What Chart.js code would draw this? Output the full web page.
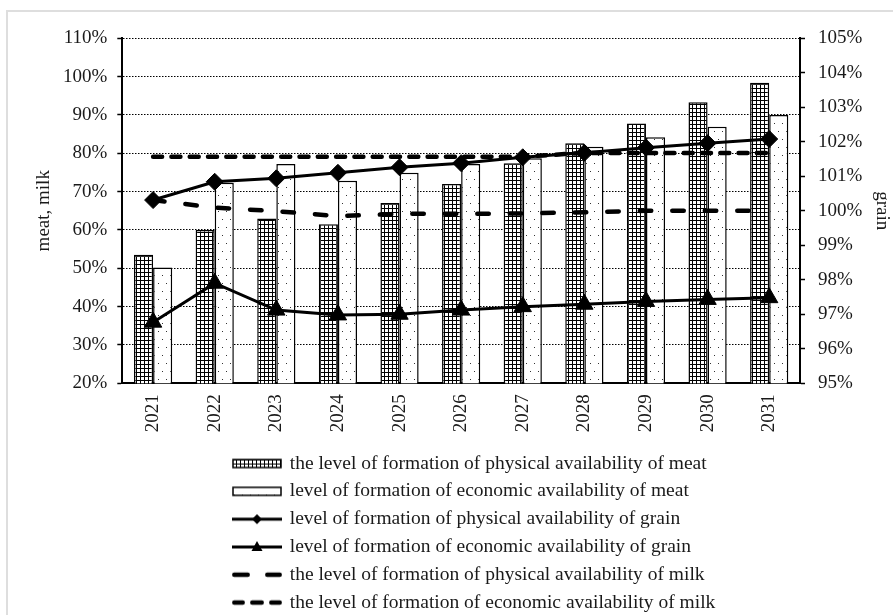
<!DOCTYPE html>
<html>
<head>
<meta charset="utf-8">
<script src="https://cdn.jsdelivr.net/npm/chart.js@4.4.1/dist/chart.umd.min.js"></script>
<style>
  html, body { margin: 0; padding: 0; background: #fff; }
  .wrap { position: relative; width: 893px; height: 615px; overflow: hidden; }
  .frame { position: absolute; left: 6px; top: 10px; width: 900px; height: 620px;
           border-left: 2px solid #dedede; border-top: 2px solid #dedede; }
  canvas { position: absolute; left: 0; top: 0; }
</style>
</head>
<body>
<div class="wrap">
  <div class="frame"></div>
  <canvas id="chart" width="893" height="615"></canvas>
</div>
<script>
// values
const years = ["2021", "2022", "2023", "2024", "2025", "2026", "2027", "2028", "2029", "2030", "2031"];
const meatPhysical = [53.5, 60.0, 63.0, 61.5, 67.0, 72.0, 77.4, 82.6, 87.8, 93.3, 98.4];
const meatEconomic = [50.2, 72.3, 77.2, 72.8, 74.9, 77.2, 78.7, 81.7, 84.2, 86.9, 90.0];
const grainPhysical = [100.31, 100.84, 100.94, 101.10, 101.26, 101.38, 101.55, 101.68, 101.83, 101.96, 102.08];
const grainEconomic = [96.77, 97.90, 97.12, 96.98, 97.00, 97.12, 97.22, 97.29, 97.37, 97.43, 97.48];
const milkPhysical = [67.8, 65.8, 64.9, 63.6, 64.2, 64.2, 64.3, 64.6, 65.0, 65.0, 65.0];
const milkEconomic = [79.1, 79.1, 79.1, 79.1, 79.1, 79.1, 79.1, 80.1, 80.1, 80.1, 80.1];

const seriesNames = [
  "the level of formation of physical availability of meat",
  "level of formation of economic availability of meat",
  "level of formation of physical availability of grain",
  "level of formation of economic availability of grain",
  "the level of formation of physical availability of milk",
  "the level of formation of economic availability of milk",
];

const serif = "'Liberation Serif', 'Times New Roman', serif";
const ink = "#1a1a1a";
const tickFont = { family: serif, size: 19 };

const makeTile = (w, h, draw) => {
  const c = document.createElement("canvas");
  c.width = w;
  c.height = h;
  draw(c.getContext("2d"));
  return c;
};

// fills for the two bar series
const gridTile = makeTile(4, 4, (g) => {
  g.fillStyle = "#fff";
  g.fillRect(0, 0, 4, 4);
  g.fillStyle = "#000";
  g.fillRect(0, 0, 4, 1);
  g.fillRect(0, 0, 1, 4);
});
const dotTile = makeTile(8, 16, (g) => {
  g.fillStyle = "#fff";
  g.fillRect(0, 0, 8, 16);
  g.fillStyle = "#333";
  g.fillRect(2, 3, 1, 1);
  g.fillRect(6, 11, 1, 1);
});

const ctx = document.getElementById("chart").getContext("2d");
const gridFill = ctx.createPattern(gridTile, "repeat");
const dotFill = ctx.createPattern(dotTile, "repeat");

// legend symbols (50px wide)
const icon = (draw) =>
  makeTile(50, 16, (g) => {
    g.translate(0, 8);
    g.strokeStyle = "#000";
    g.fillStyle = "#000";
    draw(g);
  });
const segs = (g, list) => {
  g.lineWidth = 4.5;
  g.lineCap = "round";
  list.forEach(([a, b]) => {
    g.beginPath();
    g.moveTo(a, 0);
    g.lineTo(b, 0);
    g.stroke();
  });
};
const legendIcons = [
  icon((g) => {
    g.fillStyle = g.createPattern(gridTile, "repeat");
    g.fillRect(1, -4, 48, 8);
    g.lineWidth = 1.5;
    g.strokeRect(1, -4, 48, 8);
  }),
  icon((g) => {
    g.fillStyle = g.createPattern(dotTile, "repeat");
    g.fillRect(1, -4, 48, 8);
    g.lineWidth = 1.5;
    g.strokeRect(1, -4, 48, 8);
  }),
  icon((g) => {
    g.lineWidth = 3;
    g.beginPath(); g.moveTo(0, 0); g.lineTo(50, 0); g.stroke();
    g.beginPath(); g.moveTo(20, 0); g.lineTo(25, -5); g.lineTo(30, 0); g.lineTo(25, 5); g.closePath(); g.fill();
  }),
  icon((g) => {
    g.lineWidth = 3;
    g.beginPath(); g.moveTo(0, 0); g.lineTo(50, 0); g.stroke();
    g.beginPath(); g.moveTo(25, -6); g.lineTo(30.5, 4); g.lineTo(19.5, 4); g.closePath(); g.fill();
  }),
  icon((g) => segs(g, [[2.3, 15.7], [35.3, 47.7]])),
  icon((g) => segs(g, [[2.3, 10.7], [20.3, 29.7], [39.3, 47.7]])),
];

const legendPlace = {
  id: "legendPlace",
  afterLayout(chart) {
    const l = chart.legend;
    l.left = 225.7;
    l.right = 893;
    l.top = 445.5;
    l.bottom = 615;
  },
};

new Chart(ctx, {
  type: "bar",
  data: {
    labels: years,
    datasets: [
      { label: seriesNames[0], data: meatPhysical, backgroundColor: gridFill, borderColor: "#000", borderWidth: 1.5, yAxisID: "y", order: 3 },
      { label: seriesNames[1], data: meatEconomic, backgroundColor: dotFill, borderColor: "#000", borderWidth: 1.5, yAxisID: "y", order: 3 },
      {
        type: "line", label: seriesNames[2], data: grainPhysical, yAxisID: "y1", order: 1,
        borderColor: "#000", borderWidth: 3, tension: 0,
        pointStyle: "rectRot", pointRadius: 8.5, pointBackgroundColor: "#000", pointBorderColor: "#000", pointBorderWidth: 1,
      },
      {
        type: "line", label: seriesNames[3], data: grainEconomic, yAxisID: "y1", order: 1,
        borderColor: "#000", borderWidth: 3, tension: 0,
        pointStyle: "triangle", pointRadius: 10, pointBackgroundColor: "#000", pointBorderColor: "#000", pointBorderWidth: 1,
      },
      {
        type: "line", label: seriesNames[4], data: milkPhysical, yAxisID: "y", order: 2,
        borderColor: "#000", borderWidth: 4.5, borderDash: [11.5, 21], borderCapStyle: "round", pointRadius: 0, tension: 0,
      },
      {
        type: "line", label: seriesNames[5], data: milkEconomic, yAxisID: "y", order: 2,
        borderColor: "#000", borderWidth: 4.5, borderDash: [9, 9.3], borderCapStyle: "round", pointRadius: 0, tension: 0,
      },
    ],
  },
  options: {
    responsive: false,
    animation: false,
    devicePixelRatio: 1,
    layout: { padding: { top: 38.3, left: 0, right: 0, bottom: 0 } },
    datasets: { bar: { categoryPercentage: 0.62, barPercentage: 1 } },
    plugins: {
      tooltip: { enabled: false },
      legend: {
        position: "bottom",
        align: "start",
        fullSize: false,
        labels: {
          usePointStyle: true,
          pointStyleWidth: 46,
          padding: 8.3,
          color: ink,
          font: { family: serif, size: 19.5 },
          sort: (a, b) => a.datasetIndex - b.datasetIndex,
          generateLabels: (chart) =>
            Chart.defaults.plugins.legend.labels
              .generateLabels(chart)
              .map((item) => ({ ...item, pointStyle: legendIcons[item.datasetIndex] })),
        },
      },
    },
    scales: {
      x: {
        grid: { display: false, drawTicks: false },
        border: { color: "#000", width: 2 },
        ticks: { color: ink, font: tickFont, minRotation: 90, maxRotation: 90, autoSkip: false, padding: 11 },
        afterFit: (s) => { s.height = 55; },
      },
      y: {
        position: "left",
        min: 20,
        max: 110,
        ticks: { stepSize: 10, callback: (v) => v + "%", color: ink, font: tickFont, padding: 10 },
        grid: { color: "#000", lineWidth: 1, tickLength: 5, tickColor: "#000", tickWidth: 1.5 },
        border: { color: "#000", width: 2, dash: [1.5, 1.5] },
        title: { display: true, text: "meat, milk", color: ink, font: tickFont, padding: { top: 33, bottom: 0 } },
        afterFit: (s) => { s.width = 122.3; },
      },
      y1: {
        position: "right",
        min: 95,
        max: 105,
        ticks: { stepSize: 1, callback: (v) => v + "%", color: ink, font: tickFont, padding: 13 },
        grid: { drawOnChartArea: false, tickLength: 5, tickColor: "#000", tickWidth: 1.5 },
        border: { color: "#000", width: 2 },
        title: { display: true, text: "grain", color: ink, font: tickFont, padding: { top: 0, bottom: 0 } },
        afterFit: (s) => { s.width = 93; },
      },
    },
  },
  plugins: [legendPlace],
});
</script>
</body>
</html>
